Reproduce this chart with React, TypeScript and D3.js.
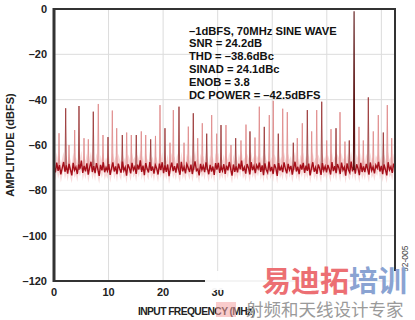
import React, { useEffect } from "react";
import * as d3 from "d3";

// Noise floor (dBFS), evenly spaced over 0..62.5 MHz
const noise: number[] = [
  -69.5,-72.1,-67.8,-71.4,-68.9,-73.0,-70.2,-67.5,-71.8,-69.0,-72.6,-68.3,-70.9,-73.4,-67.9,-71.1,-69.7,-72.8,-68.6,-70.4,-66.9,-72.3,-69.2,-71.6,-68.1,
  -73.1,-70.0,-67.4,-71.9,-69.3,-72.4,-68.0,-70.7,-73.6,-68.8,-71.2,-67.6,-72.0,-69.9,-71.5,-68.4,-73.2,-70.3,-67.7,-71.7,-69.4,-72.9,-68.2,-70.6,-72.2,
  -67.3,-71.3,-69.8,-73.5,-68.5,-70.1,-72.5,-67.9,-71.0,-69.6,-72.7,-68.7,-70.8,-66.8,-71.9,-69.1,-73.3,-68.0,-70.5,-72.1,-67.5,-71.4,-69.5,-72.6,-68.9,
  -70.4,-73.0,-68.2,-71.1,-67.6,-72.4,-69.0,-71.8,-68.6,-73.7,-70.2,-67.8,-71.5,-69.3,-72.2,-68.1,-70.9,-73.1,-67.4,-71.6,-69.7,-72.5,-68.4,-70.0,-71.9,
  -68.7,-72.8,-69.9,-67.2,-71.3,-70.6,-73.4,-68.3,-71.0,-69.2,-72.0,-67.7,-70.3,-72.9,-68.8,-71.7,-69.5,-73.2,-68.0,-70.8,-67.9,-72.3,-69.6,-71.4,-68.5,
  -72.7,-69.1,-71.2,-67.5,-70.5,-73.5,-68.6,-71.8,-69.4,-72.1,-68.2,-70.7,-66.9,-71.5,-69.8,-72.6,-68.4,-70.1,-73.0,-67.6,-71.1,-69.3,-72.4,-68.9,-70.4,
  -67.8,-71.9,-69.0,-73.3,-68.1,-70.9,-72.2,-67.3,-71.6,-69.7,-72.8,-68.5,-70.2,-73.6,-68.0,-71.3,-69.5,-72.0,-67.7,-70.6,-72.5,-68.3,-71.0,-69.2,-73.1,
  -70.0,-67.4,-71.7,-69.6,-72.9,-68.7,-70.8,-67.9,-72.3,-69.1,-71.4,-68.2,-73.4,-70.3,-67.6,-71.8,-69.9,-72.7,-68.6,-70.5,-73.2,-68.0,-71.2,-69.4,-72.1,
  -68.8,-70.7,-73.0,-67.5,-71.5,-69.3,-72.4,-68.4,-70.1,-72.8,-67.8,-71.1,-69.8,-73.5,-68.1,-70.9,-72.2,-67.3,-71.6,-69.0,-72.6,-68.5,-70.4,-73.3,-67.9,
  -71.9,-69.5,-72.0,-68.3,-70.6,-73.1,-67.7,-71.3,-69.7,-72.5,-68.9,-70.2,-67.4,-71.7,-69.2,-72.9,-68.6,-70.8,-73.4,-67.6,-71.0,-69.6,-72.3,-68.2,-70.5,
];

// Spurs: frequency (MHz) and peak (dBFS)
const spurFreq: number[] = [
  0.92, 2.14, 2.75, 3.79, 4.58, 5.50, 6.29, 7.20, 8.12, 8.98, 9.90, 10.69, 11.49, 12.52, 13.32, 14.17, 15.08, 16.00, 16.81, 17.72, 18.60, 19.43, 20.34, 21.26,
  21.87, 22.91, 23.83, 24.62, 25.53, 26.34, 27.18, 27.99, 28.90, 29.82, 30.61, 31.52, 32.44, 33.30, 34.27, 35.19, 35.92, 36.84, 37.63, 38.54, 39.46, 40.19,
  41.11, 41.92, 42.76, 43.86, 44.59, 45.51, 46.43, 47.23, 48.15, 49.07, 49.98, 50.77, 51.69, 52.42, 53.33, 54.12, 55.90, 56.69, 57.61, 58.52, 59.44, 60.36,
  61.09, 61.90,
];
const spurLevel: number[] = [
  -54.8, -43.8, -60.0, -53.4, -42.8, -57.0, -57.5, -45.3, -41.9, -55.6, -56.5, -44.8, -52.6, -55.6, -54.5, -55.6, -55.6, -54.0, -55.6, -57.5, -56.0, -42.4, -52.6, -59.0,
  -44.6, -43.1, -59.0, -51.9, -46.0, -57.0, -50.4, -55.0, -46.8, -55.0, -51.2, -51.2, -60.0, -57.0, -58.0, -51.0, -54.0, -56.7, -43.1, -52.0, -46.8, -40.5,
  -55.0, -44.0, -45.5, -59.0, -57.0, -50.4, -44.6, -54.0, -44.6, -40.9, -58.0, -53.0, -52.6, -45.5, -58.5, -58.0, -52.0, -58.0, -39.0, -54.0, -46.8, -54.5,
  -42.4, -57.0,
];

const fundamentalFreq = 55.0;
const fundamentalLevel = -1;

const xTicks = [0, 10, 20, 30, 40, 50, 60];
// labels that remain visible (the others are hidden by the watermark)
const xTickLabels = [0, 10, 20, 30];
const yTicks = [0, -20, -40, -60, -80, -100, -120];
const infoLines = [
  "\u20131dBFS, 70MHz SINE WAVE",
  "SNR = 24.2dB",
  "THD = \u201338.6dBc",
  "SINAD = 24.1dBc",
  "ENOB = 3.8",
  "DC POWER = \u201342.5dBFS",
];

const W = 415;
const H = 320;
const L = 54, R = 395, T = 9, B = 281;
const FONT = "'Liberation Sans', Arial, sans-serif";

export default function App() {
  useEffect(() => {
    document.body.style.margin = "0";
  }, []);

  const x = d3.scaleLinear().domain([0, 62.5]).range([L, R]);
  const y = d3.scaleLinear().domain([-120, 0]).range([B, T]);
  const fmt = (v: number) => (v < 0 ? "\u2013" + Math.abs(v) : String(v));

  const nf = noise.map((v, i) => ({ f: (i * 62.5) / (noise.length - 1), v }));
  const noiseLine = d3.line<{ f: number; v: number }>().x((d) => x(d.f)).y((d) => y(d.v));
  const halo = d3
    .area<{ f: number; v: number }>()
    .x((d) => x(d.f))
    .y0((d) => y(d.v - 3.5))
    .y1((d) => y(d.v + 4.5));

  const spikePath = (f: number, lvl: number) =>
    d3.line<[number, number]>()([
      [x(f - 0.12), y(-71)],
      [x(f), y(lvl)],
      [x(f + 0.12), y(-71)],
    ]) as string;

  return (
    <svg
      width={W}
      height={H}
      style={{ position: "absolute", left: 0, top: 0, background: "#fff" }}
      fontFamily={FONT}
    >
      <rect x={0} y={0} width={W} height={H} fill="#fff" />
      {/* grid */}
      {xTicks.filter((t) => t > 0).map((t) => (
        <line key={"gx" + t} x1={x(t)} x2={x(t)} y1={T} y2={B} stroke="#dcdcdc" strokeWidth={1} />
      ))}
      {yTicks.filter((t) => t < 0 && t > -120).map((t) => (
        <line key={"gy" + t} x1={L} x2={R} y1={y(t)} y2={y(t)} stroke="#dcdcdc" strokeWidth={1} />
      ))}

      {/* noise halo */}
      <path d={halo(nf) as string} fill="#f2b9b9" opacity={0.55} />

      {/* spurs */}
      {spurFreq.map((f, i) => (
        <path
          key={"s" + i}
          d={spikePath(f, spurLevel[i])}
          fill="none"
          stroke={i % 3 === 1 ? "#9c3a3a" : "#e08c8c"}
          strokeWidth={0.9}
        />
      ))}

      {/* noise floor */}
      <path d={noiseLine(nf) as string} fill="none" stroke="#a50f1a" strokeWidth={1.4} />

      {/* fundamental */}
      <path d={spikePath(fundamentalFreq, fundamentalLevel)} fill="none" stroke="#5c1414" strokeWidth={1.1} />

      {/* frame */}
      <rect x={L} y={T} width={R - L} height={B - T} fill="none" stroke="#333" strokeWidth={2} />
      <line x1={L} x2={L} y1={T - 1} y2={B + 1} stroke="#333" strokeWidth={3} />

      {/* y tick labels */}
      {yTicks.map((t) => (
        <text key={"yl" + t} x={47} y={y(t)} dy="0.35em" textAnchor="end" fontSize={11} fontWeight="bold" fill="#222">
          {fmt(t)}
        </text>
      ))}
      {/* x tick labels */}
      {xTickLabels.map((t) => (
        <text key={"xl" + t} x={x(t)} y={292} dy="0.35em" textAnchor="middle" fontSize={11} fontWeight="bold" fill="#222">
          {fmt(t)}
        </text>
      ))}

      {/* axis titles */}
      <text
        transform={`translate(14,${(T + B) / 2}) rotate(-90)`}
        textAnchor="middle"
        fontSize={11}
        fontWeight="bold"
        fill="#222"
      >
        AMPLITUDE (dBFS)
      </text>
      <text x={138} y={315} fontSize={10.3} fontWeight="bold" fill="#222" letterSpacing={-0.6}>
        INPUT FREQUENCY (MHz)
      </text>

      {/* info text */}
      {infoLines.map((s, i) => (
        <text key={"il" + i} x={189} y={30.7 + i * 12.8} dy="0.35em" fontSize={11.2} fontWeight="bold" fill="#111">
          {s}
        </text>
      ))}

      {/* figure id */}
      <text transform="translate(408,272) rotate(-90)" fontSize={8.5} fill="#444">
        82-005
      </text>

      {/* watermark */}
      <rect x={205} y={271} width={210} height={19} fill="#fff" opacity={0.95} />
      <rect x={250} y={289} width={165} height={9} fill="#fff" />
      <rect x={216} y={302} width={20} height={15} fill="#f4a3a3" opacity={0.55} />
      <text x={262} y={292} fontSize={29} fontWeight="bold" fontFamily="'Noto Sans CJK SC', sans-serif">
        <tspan fill="#ec6f73">易迪拓</tspan>
        <tspan fill="#8aa3d2">培训</tspan>
      </text>
      <text x={246} y={316} fontSize={17.5} fill="#9a9a9a" fontFamily="'Noto Sans CJK SC', sans-serif">
        射频和天线设计专家
      </text>
    </svg>
  );
}
